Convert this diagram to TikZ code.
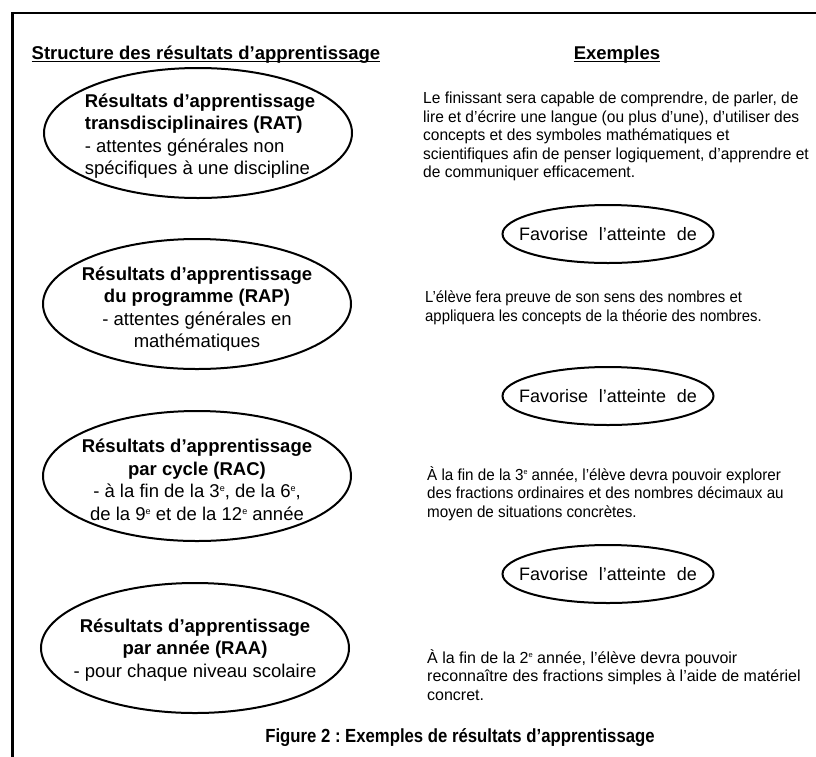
\documentclass[tikz,border=0pt]{standalone}
\usepackage{fontspec}
\setmainfont{Liberation Sans}
\newfontfamily\ratf[FakeStretch=0.97]{Liberation Sans}
\newfontfamily\rapf[FakeStretch=0.93]{Liberation Sans}
\newfontfamily\racf[FakeStretch=0.95]{Liberation Sans}
\newfontfamily\capf[FakeStretch=0.88]{Liberation Sans}
\newcommand\supbig{\raisebox{6pt}{\fontsize{9}{9}\selectfont e}}
\newcommand\supsmall{\raisebox{5.5pt}{\fontsize{7.5}{7.5}\selectfont e}}
\usetikzlibrary{shapes.geometric}
\frenchspacing
\begin{document}
\begin{tikzpicture}[x=1pt,y=-1pt,
  bigell/.style={ellipse, draw, line width=2pt, minimum width=308pt, minimum height=130pt, inner sep=0pt},
  favell/.style={ellipse, draw, line width=2pt, minimum width=211pt, minimum height=58pt, inner sep=0pt},
  elltext/.style={font=\fontsize{18.5}{22.5}\selectfont, align=center, inner sep=0pt},
  favtext/.style={font=\fontsize{18}{20}\selectfont, inner sep=0pt},
  extext/.style={align=left, anchor=north west, inner sep=0pt},
  hdr/.style={font=\bfseries\fontsize{18.5}{22}\selectfont, anchor=base, inner sep=0pt},
  uline/.style={line width=1.4pt}]
\useasboundingbox (0,0) rectangle (816,756);
% frame
\draw[line width=2.4pt] (12.5,760) -- (12.5,13) -- (820,13);
% headers
\node[hdr] (h1) at (206,59) {Structure des résultats d’apprentissage};
\draw[uline] ([yshift=-2.5pt]h1.base west) -- ([yshift=-2.5pt]h1.base east);
\node[hdr] (h2) at (617,59) {Exemples};
\draw[uline] ([yshift=-2.5pt]h2.base west) -- ([yshift=-2.5pt]h2.base east);
% left ellipses
\node[bigell] (e1) at (198,133) {};
\node[elltext, align=left] (t1) at (200,136) {\textbf{Résultats d’apprentissage}\\\textbf{transdisciplinaires (RAT)}\\- attentes générales non\\spécifiques à une discipline};
\node[bigell] (e2) at (197,304) {};
\node[elltext] (t2) at (197,309) {\textbf{Résultats d’apprentissage}\\\textbf{du programme (RAP)}\\- attentes générales en\\mathématiques};
\node[bigell] (e3) at (197,476) {};
\node[elltext] (t3) at (197,480) {\textbf{Résultats d’apprentissage}\\\textbf{par cycle (RAC)}\\- à la fin de la 3\supbig, de la 6\supbig,\\de la 9\supbig{} et de la 12\supbig{} année};
\node[bigell] (e4) at (195,648) {};
\node[elltext] (t4) at (195,650) {\textbf{Résultats d’apprentissage}\\\textbf{par année (RAA)}\\- pour chaque niveau scolaire};
% examples
\node[extext, font=\ratf\fontsize{16}{18.4}\selectfont] (x1) at (423,92) {Le finissant sera capable de comprendre, de parler, de\\lire et d’écrire une langue (ou plus d’une), d’utiliser des\\concepts et des symboles mathématiques et\\scientifiques afin de penser logiquement, d’apprendre et\\de communiquer efficacement.};
\node[favell] (f1) at (608,234) {};
\node[favtext] (ft1) at (f1.center) {Favorise\hspace{0.6em}l’atteinte\hspace{0.6em}de};
\node[extext, font=\rapf\fontsize{16}{18.6}\selectfont] (x2) at (425,291) {L’élève fera preuve de son sens des nombres et\\appliquera les concepts de la théorie des nombres.};
\node[favell] (f2) at (608,396) {};
\node[favtext] (ft2) at (f2.center) {Favorise\hspace{0.6em}l’atteinte\hspace{0.6em}de};
\node[extext, font=\racf\fontsize{16}{18.6}\selectfont] (x3) at (427,466) {À la fin de la 3\supsmall{} année, l’élève devra pouvoir explorer\\des fractions ordinaires et des nombres décimaux au\\moyen de situations concrètes.};
\node[favell] (f3) at (608,574) {};
\node[favtext] (ft3) at (f3.center) {Favorise\hspace{0.6em}l’atteinte\hspace{0.6em}de};
\node[extext, font=\fontsize{16}{18.6}\selectfont] (x4) at (427,649) {À la fin de la 2\supsmall{} année, l’élève devra pouvoir\\reconnaître des fractions simples à l’aide de matériel\\concret.};
% caption
\node[font=\capf\bfseries\fontsize{19}{22}\selectfont, anchor=base, inner sep=0pt] (cap) at (460,742) {Figure 2 : Exemples de résultats d’apprentissage};
\end{tikzpicture}
\end{document}
